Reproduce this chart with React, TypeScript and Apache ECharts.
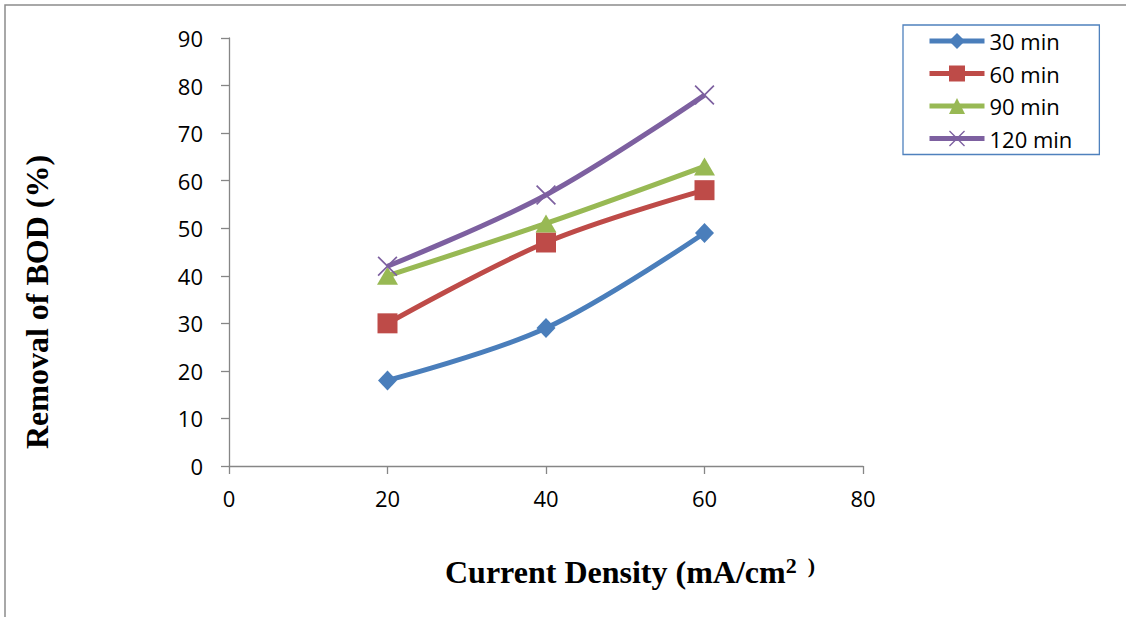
import React, { useEffect, useRef } from "react";
import * as echarts from "echarts";

const xValues = [20, 40, 60];
const seriesNames = ["30 min", "60 min", "90 min", "120 min"];
const values30 = [18, 29, 49];
const values60 = [30, 47, 58];
const values90 = [40, 51, 63];
const values120 = [42, 57, 78];
const seriesValues = [values30, values60, values90, values120];
const colors = ["#4a7ebb", "#be4b48", "#98b954", "#7d60a0"];
const xAxisMin = 0;
const xAxisMax = 80;
const xAxisStep = 20;
const yAxisMin = 0;
const yAxisMax = 90;
const yAxisStep = 10;

const X_PATH =
  "path://M0,1.2L1.2,0L10,8.8L18.8,0L20,1.2L11.2,10L20,18.8L18.8,20L10,11.2L1.2,20L0,18.8L8.8,10Z";
const symbols = ["diamond", "rect", "triangle", X_PATH];
const symbolSizes: any[] = [[19, 20], 20, [21, 18], 20];

export default function App() {
  const ref = useRef<HTMLDivElement>(null);
  useEffect(() => {
    if (!ref.current) return;
    const chart = echarts.init(ref.current, undefined, { renderer: "svg" });
    const axisColor = "#868686";
    chart.setOption({
      animation: false,
      backgroundColor: "#ffffff",
      grid: { left: 229, right: 263, top: 38, bottom: 151, containLabel: false },
      xAxis: {
        type: "value",
        min: xAxisMin,
        max: xAxisMax,
        interval: xAxisStep,
        axisLine: { show: true, onZero: false, lineStyle: { color: axisColor, width: 1.3 } },
        axisTick: { show: true, length: 8, lineStyle: { color: axisColor, width: 1.3 } },
        splitLine: { show: false },
        axisLabel: { margin: 21, fontFamily: "Open Sans", fontSize: 22, color: "#000" },
      },
      yAxis: {
        type: "value",
        min: yAxisMin,
        max: yAxisMax,
        interval: yAxisStep,
        axisLine: { show: true, lineStyle: { color: axisColor, width: 1.3 } },
        axisTick: { show: true, length: 8, lineStyle: { color: axisColor, width: 1.3 } },
        splitLine: { show: false },
        axisLabel: { margin: 26, fontFamily: "Open Sans", fontSize: 22, color: "#000" },
      },
      legend: {
        orient: "vertical",
        left: 903,
        top: 25,
        itemWidth: 55,
        itemHeight: 20,
        itemGap: 10.5,
        padding: [5, 27, 5, 24],
        borderColor: "#4f81bd",
        borderWidth: 1.3,
        backgroundColor: "#fff",
        lineStyle: { width: 5 },
        textStyle: { fontFamily: "Open Sans", fontSize: 22, color: "#000", lineHeight: 22, padding: [0, 0, 0, 0] },
        data: seriesNames,
      },
      series: seriesNames.map((name, i) => ({
        name,
        type: "line",
        data: xValues.map((x, j) => [x, seriesValues[i][j]]),
        smooth: 0.35,
        symbol: symbols[i],
        symbolSize: symbolSizes[i],
        lineStyle: { color: colors[i], width: 5 },
        itemStyle: { color: colors[i] },
        z: 2 + i,
      })),
      graphic: [
        {
          type: "rect",
          shape: { x: 5, y: 5, width: 1400, height: 900 },
          style: { fill: "none", stroke: "#8c8c8c", lineWidth: 1.5 },
          silent: true,
        },
        {
          type: "text",
          x: 37,
          y: 302,
          rotation: Math.PI / 2,
          style: {
            text: "Removal of BOD (%)",
            fontFamily: "Liberation Serif",
            fontWeight: "bold",
            fontSize: 32,
            fill: "#000",
            align: "center",
            verticalAlign: "middle",
          },
        },
        {
          type: "text",
          x: 445,
          y: 572,
          style: {
            text: "{a|Current Density (mA/cm}{b|2  )}",
            align: "left",
            verticalAlign: "middle",
            rich: {
              a: { fontFamily: "Liberation Serif", fontWeight: "bold", fontSize: 32, fill: "#000", color: "#000" },
              b: {
                fontFamily: "Liberation Serif",
                fontWeight: "bold",
                fontSize: 22,
                fill: "#000",
                color: "#000",
                padding: [0, 0, 14, 0],
              },
            },
          },
        },
      ],
    });
    return () => chart.dispose();
  }, []);
  return (
    <div
      ref={ref}
      style={{ position: "absolute", left: 0, top: 0, width: 1126, height: 617 }}
    />
  );
}
